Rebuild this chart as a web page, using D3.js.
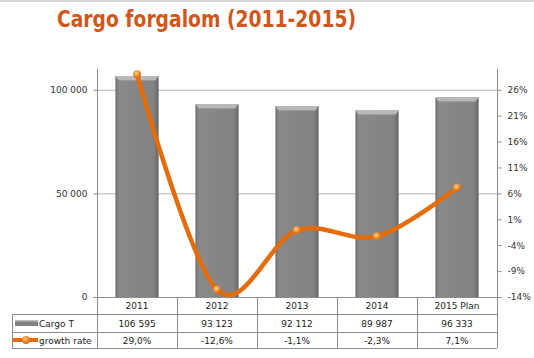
<!DOCTYPE html>
<html><head><meta charset="utf-8">
<script src="https://cdn.jsdelivr.net/npm/d3@7"></script>
<style>body{margin:0;background:#fff}svg{display:block}</style>
</head><body>
<script>
const categories = ["2011", "2012", "2013", "2014", "2015 Plan"];
const cargo = [106595, 93123, 92112, 89987, 96333];
const growth = [29.0, -12.6, -1.1, -2.3, 7.1];
const cargoLabels = ["106 595", "93 123", "92 112", "89 987", "96 333"];
const growthLabels = ["29,0%", "-12,6%", "-1,1%", "-2,3%", "7,1%"];
const leftTicks = [0, 50000, 100000];
const rightTicks = [-14, -9, -4, 1, 6, 11, 16, 21, 26];
const seriesNames = ["Cargo T", "growth rate"];
const title = "Cargo forgalom (2011-2015)";

const W = 534, H = 358;
const L = 97, R = 497, T = 69, B = 297;
const rowY = [297, 314, 332, 348];
const orange = "#e46c0a";
const font = "DejaVu Sans, Verdana, sans-serif";

const svg = d3.select("body").append("svg").attr("width", W).attr("height", H);
const defs = svg.append("defs");
const bg = defs.append("linearGradient").attr("id", "barg").attr("x1", 0).attr("x2", 1).attr("y1", 0).attr("y2", 0);
bg.append("stop").attr("offset", "0").attr("stop-color", "#6e6e6e");
bg.append("stop").attr("offset", "0.08").attr("stop-color", "#8a8a8a");
bg.append("stop").attr("offset", "0.9").attr("stop-color", "#828282");
bg.append("stop").attr("offset", "1").attr("stop-color", "#626262");
const mg = defs.append("radialGradient").attr("id", "mk").attr("cx", "0.4").attr("cy", "0.35").attr("r", "0.65");
mg.append("stop").attr("offset", "0").attr("stop-color", "#ffd39a");
mg.append("stop").attr("offset", "0.45").attr("stop-color", "#f49a3c");
mg.append("stop").attr("offset", "1").attr("stop-color", "#d9650a");

// top border
svg.append("rect").attr("x", 0).attr("y", 0).attr("width", W).attr("height", 2).attr("fill", "#d4d4d4");

// title
svg.append("text").attr("x", 57).attr("y", 27).attr("font-family", font).attr("font-weight", "bold")
  .attr("font-size", 23).attr("fill", "#d0571a").attr("textLength", 299).attr("lengthAdjust", "spacingAndGlyphs")
  .text(title);

const x = d3.scaleBand().domain(categories).range([L, R]).paddingInner(0.46).paddingOuter(0.23);
const yL = d3.scaleLinear().domain([0, 110000]).range([B, T]);
const yR = d3.scaleLinear().domain([-14, 30]).range([B, T]);
const loc = d3.formatLocale({thousands: " ", grouping: [3], decimal: ",", currency: ["", ""]});
const fmt = loc.format(",d");

// gridlines
svg.append("g").selectAll("line").data(leftTicks.filter(d => d > 0)).join("line")
  .attr("x1", L).attr("x2", R).attr("y1", d => yL(d) + 0.5).attr("y2", d => yL(d) + 0.5)
  .attr("stroke", "#b4b4b4").attr("stroke-width", 1);

// left axis
const gl = svg.append("g").attr("transform", `translate(${L + 0.5},0)`)
  .call(d3.axisLeft(yL).tickValues(leftTicks).tickFormat(fmt).tickSize(4).tickPadding(6));
gl.select(".domain").attr("stroke", "#8c8c8c").attr("d", `M0,${T}V${rowY[3]}`);
gl.selectAll(".tick line").attr("stroke", "#8c8c8c");
gl.selectAll("text").attr("font-family", font).attr("font-size", 9).attr("fill", "#333");

// right axis
const gr = svg.append("g").attr("transform", `translate(${R + 0.5},0)`)
  .call(d3.axisRight(yR).tickValues(rightTicks).tickFormat(d => d + "%").tickSize(4).tickPadding(6));
gr.select(".domain").attr("stroke", "#8c8c8c").attr("d", `M0,${T}V${B}`);
gr.selectAll(".tick line").attr("stroke", "#8c8c8c");
gr.selectAll("text").attr("font-family", font).attr("font-size", 9).attr("fill", "#333");

// bars
const bars = svg.append("g").selectAll("g").data(categories).join("g");
bars.append("rect").attr("x", (d, i) => x(d)).attr("y", (d, i) => yL(cargo[i]))
  .attr("width", x.bandwidth()).attr("height", (d, i) => B - yL(cargo[i])).attr("fill", "url(#barg)");
bars.append("path").attr("d", (d, i) => {
  const x0 = x(d), x1 = x0 + x.bandwidth(), y0 = yL(cargo[i]);
  return `M${x0},${y0}H${x1}L${x1 - 3},${y0 + 4}H${x0 + 3}Z`;
}).attr("fill", "#b8b8b8");
bars.append("rect").attr("x", (d) => x(d) + 3).attr("y", (d, i) => yL(cargo[i]) + 4)
  .attr("width", x.bandwidth() - 6).attr("height", 1).attr("fill", "#9a9a9a");

// axis baseline
svg.append("line").attr("x1", L - 4).attr("x2", R + 4).attr("y1", B + 0.5).attr("y2", B + 0.5).attr("stroke", "#8c8c8c");

// line
const cx = d => x(d) + x.bandwidth() / 2;
const line = d3.line().x((d, i) => cx(categories[i])).y(d => yR(d)).curve(d3.curveCardinal.tension(0));
svg.append("path").datum(growth).attr("d", line).attr("fill", "none").attr("stroke", orange)
  .attr("stroke-width", 4.5).attr("stroke-linejoin", "round");
svg.append("g").selectAll("circle").data(growth).join("circle")
  .attr("cx", (d, i) => cx(categories[i])).attr("cy", d => yR(d)).attr("r", 4).attr("fill", "url(#mk)");

// table
const tg = svg.append("g");
const stroke = "#8c8c8c";
// horizontal lines
tg.append("line").attr("x1", 12).attr("x2", R).attr("y1", rowY[1] + 0.5).attr("y2", rowY[1] + 0.5).attr("stroke", stroke);
tg.append("line").attr("x1", 12).attr("x2", R).attr("y1", rowY[2] + 0.5).attr("y2", rowY[2] + 0.5).attr("stroke", stroke);
tg.append("line").attr("x1", 12).attr("x2", R).attr("y1", rowY[3] + 0.5).attr("y2", rowY[3] + 0.5).attr("stroke", stroke);
tg.append("line").attr("x1", 12.5).attr("x2", 12.5).attr("y1", rowY[1]).attr("y2", rowY[3]).attr("stroke", stroke);
const colEdges = d3.range(categories.length + 1).map(i => L + i * x.step());
tg.selectAll("line.col").data(colEdges).join("line").attr("class", "col")
  .attr("x1", d => d + 0.5).attr("x2", d => d + 0.5).attr("y1", rowY[0]).attr("y2", rowY[3]).attr("stroke", stroke);

const rowsText = [categories, cargoLabels, growthLabels];
rowsText.forEach((arr, r) => {
  tg.append("g").selectAll("text").data(arr).join("text")
    .attr("x", (d, i) => cx(categories[i])).attr("y", (rowY[r] + rowY[r + 1]) / 2 + 3.5)
    .attr("text-anchor", "middle").attr("font-family", font).attr("font-size", 9).attr("fill", "#222")
    .text(d => d);
});

// legend keys
const ly1 = (rowY[1] + rowY[2]) / 2, ly2 = (rowY[2] + rowY[3]) / 2;
tg.append("rect").attr("x", 15).attr("y", ly1 - 3).attr("width", 23).attr("height", 6).attr("fill", "#808080");
tg.append("rect").attr("x", 15).attr("y", ly1 - 3).attr("width", 23).attr("height", 1.5).attr("fill", "#bdbdbd");
tg.append("line").attr("x1", 13).attr("x2", 38).attr("y1", ly2).attr("y2", ly2).attr("stroke", orange).attr("stroke-width", 4);
tg.append("circle").attr("cx", 26).attr("cy", ly2).attr("r", 4).attr("fill", "url(#mk)");
tg.selectAll("text.leg").data(seriesNames).join("text").attr("class", "leg")
  .attr("x", 39).attr("y", (d, i) => (i ? ly2 : ly1) + 3.5)
  .attr("font-family", font).attr("font-size", 9).attr("fill", "#222").text(d => d);
</script>
</body></html>
